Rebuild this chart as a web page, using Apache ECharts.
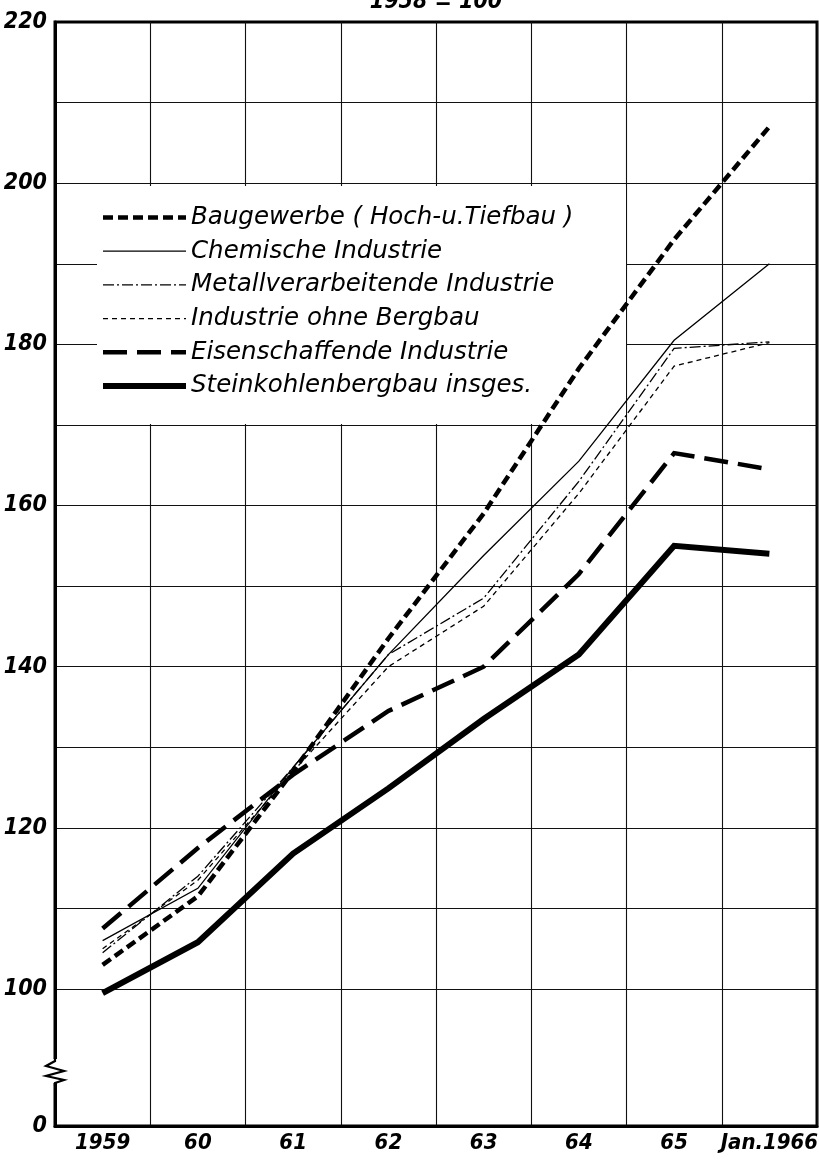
<!DOCTYPE html>
<html>
<head>
<meta charset="utf-8">
<script src="https://cdn.jsdelivr.net/npm/echarts@6/dist/echarts.min.js"></script>
<style>
html,body{margin:0;padding:0;background:#fff;}
#chart{width:819px;height:1160px;}
</style>
</head>
<body>
<div id="chart"></div>
<script>
// ---- data ----
const categories = ['1959', '60', '61', '62', '63', '64', '65', 'Jan.1966'];
const seriesNames = [
  'Baugewerbe ( Hoch-u.Tiefbau )',
  'Chemische Industrie',
  'Metallverarbeitende Industrie',
  'Industrie ohne Bergbau',
  'Eisenschaffende Industrie',
  'Steinkohlenbergbau insges.'
];
const baugewerbe  = [103, 111.5, 127, 143.5, 159, 177, 193, 207];
const chemische   = [106, 112.5, 127.5, 141.5, 153.8, 165.5, 180.5, 190];
const metall      = [104.5, 114, 127.5, 141.5, 148.5, 163, 179.5, 180.3];
const industrie   = [105, 113.5, 127, 140, 147.5, 161.5, 177.3, 180.2];
const eisen       = [107.5, 117.5, 126.6, 134.5, 140, 151.5, 166.5, 164.5];
const steinkohle  = [99.5, 105.8, 116.8, 124.9, 133.5, 141.5, 155, 154];
const yGridValues  = [100, 110, 120, 130, 140, 150, 160, 170, 180, 190, 200, 210];
const yLabelValues = [83, 100, 120, 140, 160, 180, 200, 220];
const yLabelText   = {83: '0'};
const subtitle = '1958 = 100';

const tickFont = "'Liberation Sans Narrow','DejaVu Sans Condensed','Liberation Sans',sans-serif";
const legendFont = "'DejaVu Sans','Liberation Sans',sans-serif";

const styles = [
  {width: 4.5, type: [10, 5]},
  {width: 1.3, type: 'solid'},
  {width: 1.3, type: [11, 3, 2, 3]},
  {width: 1.3, type: [5, 4]},
  {width: 4.5, type: [24, 10]},
  {width: 6, type: 'solid'}
];
const values = [baugewerbe, chemische, metall, industrie, eisen, steinkohle];

const chart = echarts.init(document.getElementById('chart'), null, {renderer: 'canvas'});

const option = {
  animation: false,
  backgroundColor: '#fff',
  grid: {left: 55, right: 2, top: 22, bottom: 34, outerBoundsMode: 'none', containLabel: false,
         show: true, borderColor: '#000', borderWidth: 3, backgroundColor: 'transparent'},
  legend: {
    orient: 'vertical',
    left: 100,
    top: 205,
    padding: 0,
    itemWidth: 83,
    itemHeight: 14,
    itemGap: 8.7,
    itemStyle: {opacity: 0},
    lineStyle: {width: 'inherit', type: 'inherit', color: 'inherit'},
    textStyle: {fontFamily: legendFont, fontStyle: 'italic', fontSize: 24.5, color: '#000', lineHeight: 24, padding: 0},
    data: seriesNames
  },
  xAxis: {
    type: 'category',
    data: categories,
    boundaryGap: true,
    axisLine: {show: true, lineStyle: {color: '#000', width: 3}},
    axisTick: {show: false},
    splitLine: {show: true, interval: 0, lineStyle: {color: '#111', width: 1.1}},
    axisLabel: {interval: 0, margin: 6, color: '#000', fontFamily: tickFont, fontStyle: 'italic', fontWeight: 'bold', fontSize: 22, hideOverlap: false}
  },
  yAxis: {
    type: 'value',
    min: 83,
    max: 220,
    axisLine: {show: true, lineStyle: {color: '#000', width: 3}},
    axisTick: {show: false, customValues: yGridValues},
    splitLine: {show: true, lineStyle: {color: '#111', width: 1.1}},
    axisLabel: {
      customValues: yLabelValues,
      margin: 8,
      color: '#000',
      fontFamily: tickFont,
      fontStyle: 'italic',
      fontWeight: 'bold',
      fontSize: 23,
      formatter: v => (yLabelText[v] !== undefined ? yLabelText[v] : String(v))
    }
  },
  graphic: [
    {type: 'rect', z: 1, shape: {x: 97, y: 186, width: 529, height: 238}, style: {fill: '#fff'}},
    {type: 'rect', z: 10, shape: {x: 50, y: 1059, width: 10, height: 24}, style: {fill: '#fff'}},
    {type: 'polyline', z: 11, shape: {points: [[55, 1058], [55, 1061], [46, 1066], [64, 1071], [46, 1076], [64, 1080], [55, 1083], [55, 1086]]}, style: {stroke: '#000', lineWidth: 2.2, fill: null}},
    {type: 'text', z: 5, x: 436, y: 14, style: {text: subtitle, align: 'center', verticalAlign: 'bottom', fontFamily: tickFont, fontStyle: 'italic', fontWeight: 'bold', fontSize: 23, fill: '#000'}}
  ],
  series: values.map((d, i) => ({
    name: seriesNames[i],
    type: 'line',
    data: d,
    symbol: 'none',
    showSymbol: false,
    z: 2,
    lineStyle: {color: '#000', width: styles[i].width, type: styles[i].type, cap: 'butt', join: 'miter'},
    itemStyle: {color: '#000'}
  }))
};
chart.setOption(option);
</script>
</body>
</html>
